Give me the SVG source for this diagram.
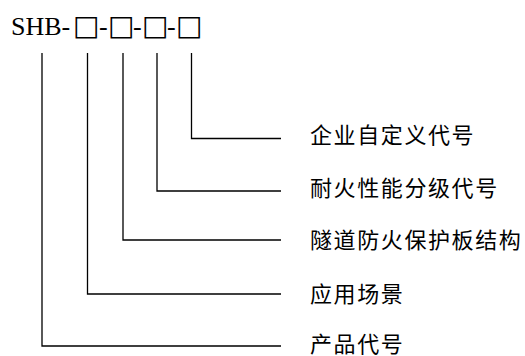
<svg xmlns="http://www.w3.org/2000/svg" width="525" height="356" viewBox="0 0 525 356">
<style>
.c{fill:none;stroke:#000;stroke-width:1.3}
.t{font-family:"Noto Sans CJK SC","Noto Sans CJK JP",sans-serif;font-size:22px;letter-spacing:1.6px;fill:#000}
.h{font-family:"Liberation Serif","DejaVu Serif",serif;font-size:26px;fill:#000}
.b{font-family:"DejaVu Sans",sans-serif;font-size:28px}
</style>
<rect width="525" height="356" fill="#fff"/>
<g id="title"><text class="h" y="35"><tspan x="11">SHB-</tspan><tspan class="b" x="73">□</tspan><tspan x="99">-</tspan><tspan class="b" x="108">□</tspan><tspan x="133">-</tspan><tspan class="b" x="142">□</tspan><tspan x="167">-</tspan><tspan class="b" x="176">□</tspan></text></g>
<g id="connectors">
<polyline class="c" points="191.5,53 191.5,138.5 281,138.5"/>
<polyline class="c" points="157,53 157,191 281,191"/>
<polyline class="c" points="123,53 123,240 281,240"/>
<polyline class="c" points="87.5,53 87.5,294 281,294"/>
<polyline class="c" points="42,53 42,346 281,346"/>
</g>
<g id="n1"><text class="t" x="310" y="142.5">企业自定义代号</text></g>
<g id="n2"><text class="t" x="310" y="195.5">耐火性能分级代号</text></g>
<g id="n3"><text class="t" x="310" y="248">隧道防火保护板结构</text></g>
<g id="n4"><text class="t" x="310" y="301.5">应用场景</text></g>
<g id="n5"><text class="t" x="310" y="351.5">产品代号</text></g>
</svg>
